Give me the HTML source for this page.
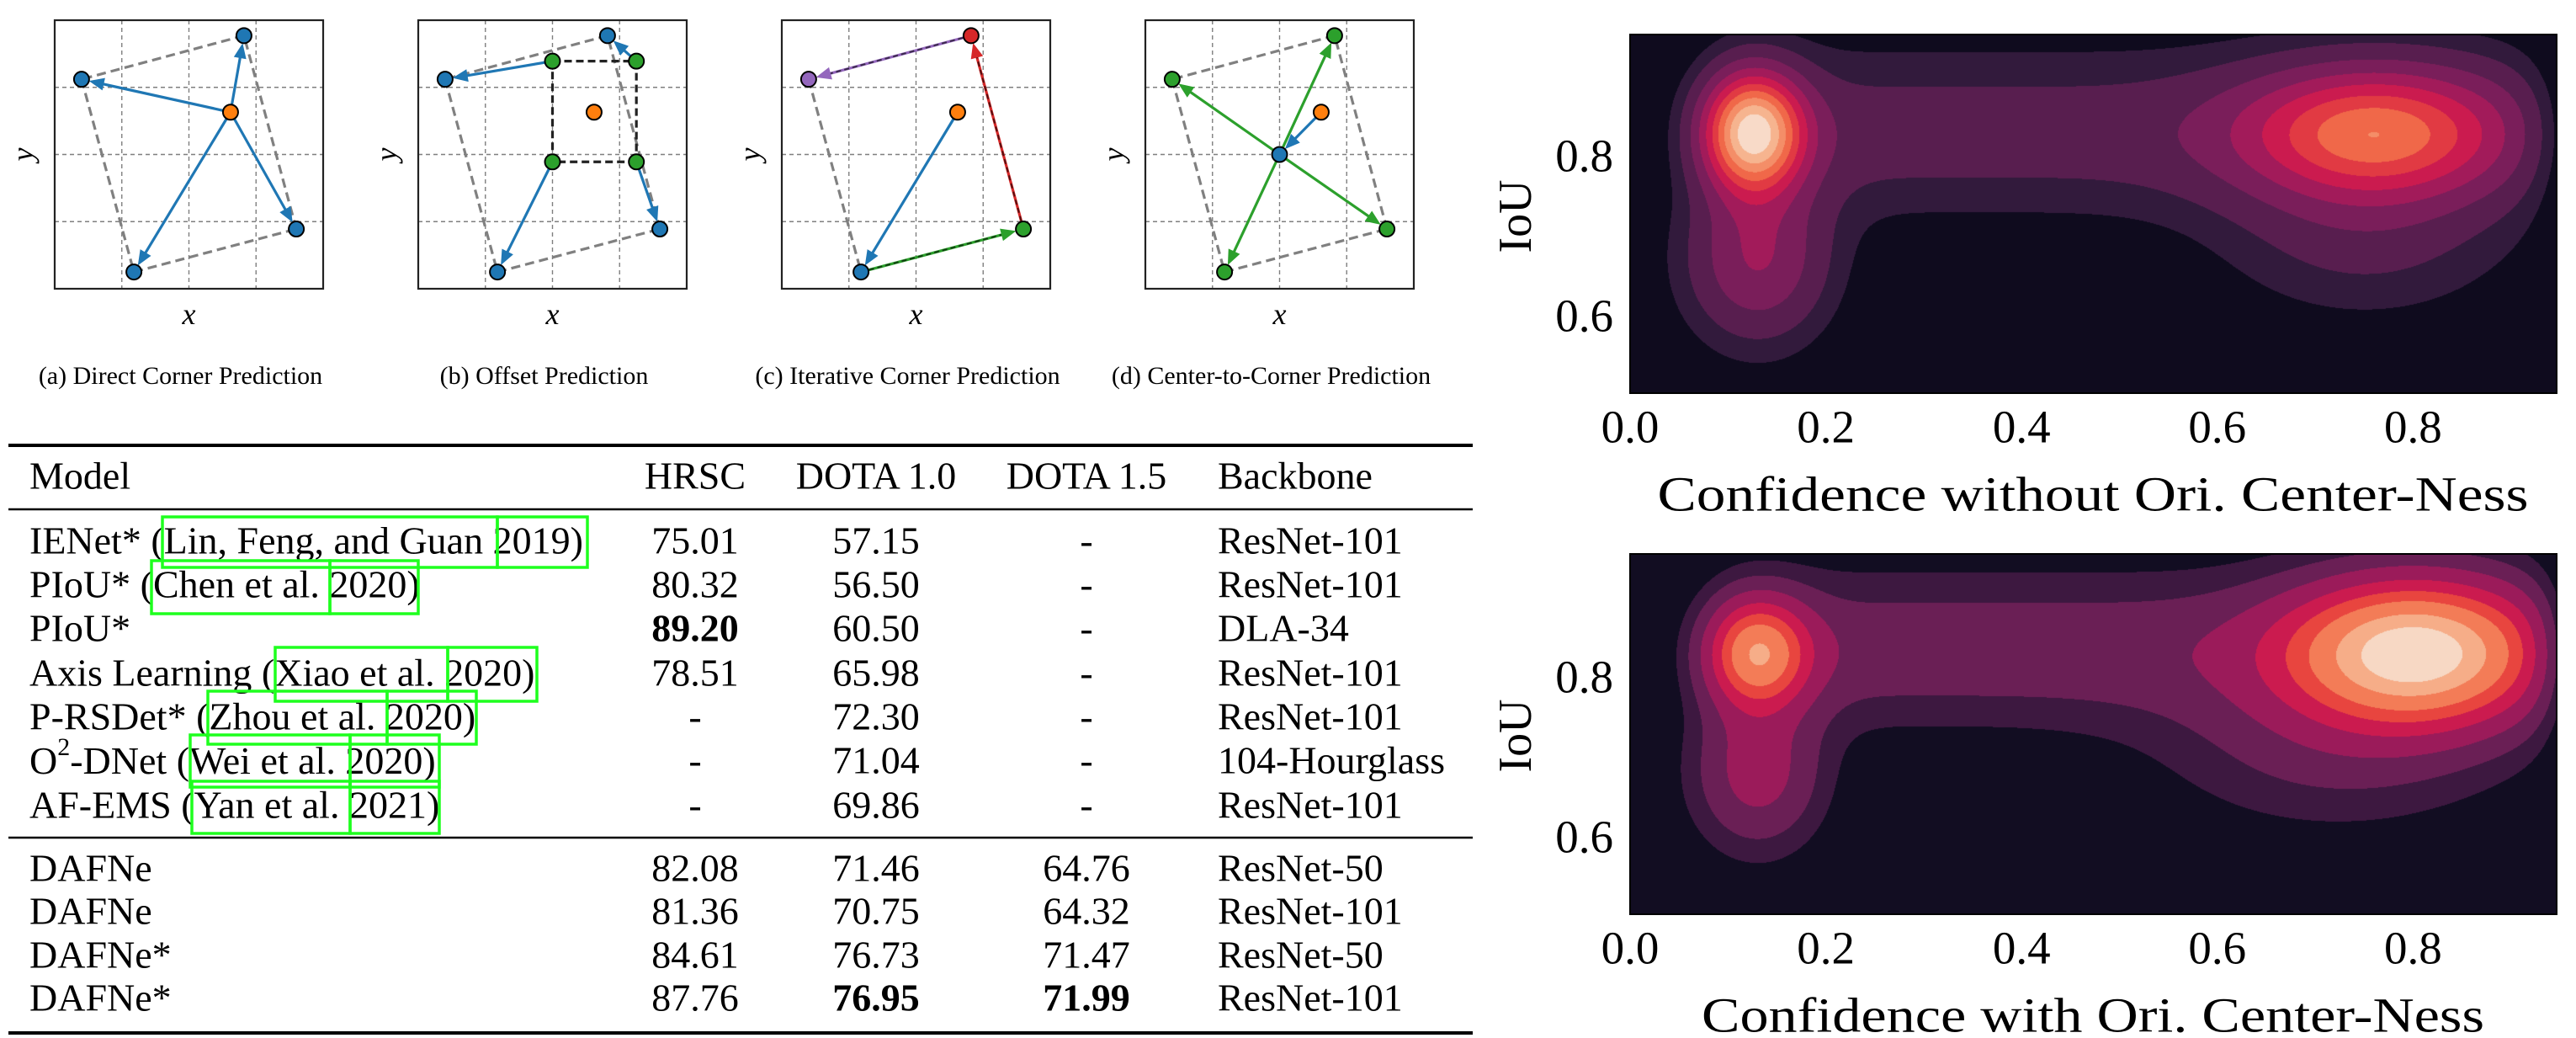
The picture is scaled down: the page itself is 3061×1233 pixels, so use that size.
<!DOCTYPE html>
<html><head><meta charset="utf-8">
<style>
html,body{margin:0;padding:0;background:#fff;}
#root{position:relative;width:3061px;height:1233px;overflow:hidden;}
svg{position:absolute;left:0;top:0;}
canvas{position:absolute;}
</style></head>
<body>
<div id="root">
<canvas id="kde1" style="left:1937px;top:41px" width="1101" height="426"></canvas>
<canvas id="kde2" style="left:1937px;top:658px" width="1101" height="428"></canvas>
<svg id="main" width="3061" height="1233" viewBox="0 0 3061 1233" xmlns="http://www.w3.org/2000/svg">
  <g id="diagrams"></g>
  <g id="table" font-family="Liberation Serif, serif" font-size="46" fill="#000"></g>
  <g id="kdeaxes" font-family="Liberation Serif, serif" fill="#000"></g>
</svg>
</div>
<script>
// ---------- Diagram data (grid units, 0..4) ----------
const blueCorners = [[2.82,0.23],[0.40,0.88],[1.18,3.75],[3.60,3.11]]; // top,left,bottom,right
const centerPt = [2.62,1.37];
const offsetCorners = [[2.0,0.61],[3.25,0.61],[3.25,2.11],[2.0,2.11]]; // TL,TR,BR,BL
const gridCenter = [2.0,2.0];
const panelCaptions = ["(a) Direct Corner Prediction","(b) Offset Prediction","(c) Iterative Corner Prediction","(d) Center-to-Corner Prediction"];
const panelLefts = [65,497,929,1361];

// ---------- Table data ----------
const tableHeader = ["Model","HRSC","DOTA 1.0","DOTA 1.5","Backbone"];
const tableModels = [
 ["IENet* (","Lin, Feng, and Guan","2019",")"],
 ["PIoU* (","Chen et al.","2020",")"],
 ["PIoU*"],
 ["Axis Learning (","Xiao et al.","2020",")"],
 ["P-RSDet* (","Zhou et al.","2020",")"],
 ["O2-DNet (","Wei et al.","2020",")"],
 ["AF-EMS (","Yan et al.","2021",")"],
 ["DAFNe"],["DAFNe"],["DAFNe*"],["DAFNe*"]];
const hrsc = ["75.01","80.32","89.20","78.51","-","-","-","82.08","81.36","84.61","87.76"];
const dota10 = ["57.15","56.50","60.50","65.98","72.30","71.04","69.86","71.46","70.75","76.73","76.95"];
const dota15 = ["-","-","-","-","-","-","-","64.76","64.32","71.47","71.99"];
const backbones = ["ResNet-101","ResNet-101","DLA-34","ResNet-101","ResNet-101","104-Hourglass","ResNet-101","ResNet-50","ResNet-101","ResNet-50","ResNet-101"];
const boldCells = {hrsc:[2], dota10:[10], dota15:[10]};

// ---------- KDE data: gaussian components [cx, cy, sx, sy, weight] ----------
const kde1Components = [[0.125,0.83,0.035,0.05,1.0],[0.13,0.67,0.05,0.07,0.35],[0.76,0.83,0.09,0.055,0.62],[0.75,0.70,0.10,0.07,0.15]];
// bridge band: [xStart, xEnd, cy, sy, weight]
const kde1Band = [0.09,0.92,0.83,0.07,0.18];
const kde1Levels = [0.055,0.11,0.2,0.3,0.4,0.5,0.6,0.7,0.8,0.9];
const kde1Colors = ["#0f0b1e","#321a3c","#581e4f","#7a1e5a","#a21b5a","#cb1b4f","#e13a43","#f06849","#f48e68","#f6b48f","#f8dac8"];
const kde2Components = [[0.13,0.83,0.035,0.045,0.72],[0.13,0.68,0.045,0.065,0.3],[0.80,0.83,0.085,0.06,1.0],[0.72,0.71,0.12,0.07,0.15]];
const kde2Band = [0.09,0.93,0.835,0.065,0.2];
const kde2Levels = [0.055,0.11,0.2,0.32,0.44,0.56,0.72,0.86];
const kde2Colors = ["#120d22","#3d1840","#6a1f55","#9b1b5a","#cb1b4f","#e8453f","#f37c57","#f6ad88","#f7d8c4"];
const xTicks = [0.0,0.2,0.4,0.6,0.8];
const xTickLabels = ["0.0","0.2","0.4","0.6","0.8"];
const yTicks = [0.6,0.8];
const yTickLabels = ["0.6","0.8"];

const NS="http://www.w3.org/2000/svg";
function el(tag,attrs,parent){const e=document.createElementNS(NS,tag);for(const k in attrs)e.setAttribute(k,attrs[k]);parent.appendChild(e);return e;}

// ---------- Diagrams ----------
const dg=document.getElementById('diagrams');
const FT=24, FS=319, U=FS/4, R=9;
const C={blue:"#1f77b4",orange:"#ff7f0e",green:"#2ca02c",red:"#d62728",purple:"#9467bd"};
function P(L,p){return [L+p[0]*U, FT+p[1]*U];}
function arrow(g,a,b,color,overlay){
  const dx=b[0]-a[0],dy=b[1]-a[1],len=Math.hypot(dx,dy),ux=dx/len,uy=dy/len;
  const tip=[b[0]-ux*R,b[1]-uy*R], hl=18,hw=7.5;
  const base=[tip[0]-ux*hl,tip[1]-uy*hl];
  const ln=el('line',{x1:a[0],y1:a[1],x2:base[0]+ux*2,y2:base[1]+uy*2,stroke:color,'stroke-width':3.2},g);
  
  
  const hd=el('polygon',{points:`${tip[0]},${tip[1]} ${base[0]-uy*hw},${base[1]+ux*hw} ${base[0]+uy*hw},${base[1]-ux*hw}`,fill:color},g);
  
  
  if(overlay){
    const o=el('line',{x1:a[0],y1:a[1],x2:base[0],y2:base[1],stroke:"#000",'stroke-opacity':0.6,'stroke-width':2,'stroke-dasharray':'6,4'},g);
    
    
  }
}
function dot(g,p,color){
  const c=el('circle',{cx:p[0],cy:p[1],r:R,fill:color,stroke:"#000",'stroke-width':2},g);
  
  
}
function quad(g,pts,segs,color,w,dash){
  segs.forEach(s=>{const a=pts[s[0]],b=pts[s[1]];
    const l=el('line',{x1:a[0],y1:a[1],x2:b[0],y2:b[1],stroke:color,'stroke-width':w,'stroke-dasharray':dash},g);
    
    });
}
panelLefts.forEach((L,i)=>{
  const g=el('g',{},dg);
  
  
  for(let k=1;k<4;k++){
    el('line',{x1:L+k*U,y1:FT,x2:L+k*U,y2:FT+FS,stroke:"#7f7f7f",'stroke-width':1.4,'stroke-dasharray':'5,4'},g);
    el('line',{x1:L,y1:FT+k*U,x2:L+FS,y2:FT+k*U,stroke:"#7f7f7f",'stroke-width':1.4,'stroke-dasharray':'5,4'},g);
  }
  const bc=blueCorners.map(p=>P(L,p)), cp=P(L,centerPt);
  const allEdges=[[0,1],[1,2],[2,3],[3,0]];
  const gray="#808080";
  if(i===0){
    quad(g,bc,allEdges,gray,3.2,'11,6');
    bc.forEach(p=>arrow(g,cp,p,C.blue));
    bc.forEach(p=>dot(g,p,C.blue)); dot(g,cp,C.orange);
  } else if(i===1){
    quad(g,bc,allEdges,gray,3.2,'11,6');
    const oc=offsetCorners.map(p=>P(L,p));
    quad(g,oc,allEdges,"#222",3.2,'9,5');
    arrow(g,oc[0],bc[1],C.blue); arrow(g,oc[1],bc[0],C.blue);
    arrow(g,oc[2],bc[3],C.blue); arrow(g,oc[3],bc[2],C.blue);
    bc.forEach(p=>dot(g,p,C.blue)); oc.forEach(p=>dot(g,p,C.green)); dot(g,cp,C.orange);
  } else if(i===2){
    quad(g,bc,[[1,2]],gray,3.2,'11,6');
    arrow(g,cp,bc[2],C.blue);
    arrow(g,bc[2],bc[3],C.green,true);
    arrow(g,bc[3],bc[0],C.red,true);
    arrow(g,bc[0],bc[1],C.purple,true);
    dot(g,bc[0],C.red); dot(g,bc[1],C.purple); dot(g,bc[2],C.blue); dot(g,bc[3],C.green); dot(g,cp,C.orange);
  } else {
    quad(g,bc,allEdges,gray,3.2,'11,6');
    const gc=P(L,gridCenter);
    arrow(g,cp,gc,C.blue);
    bc.forEach(p=>arrow(g,gc,p,C.green));
    bc.forEach(p=>dot(g,p,C.green)); dot(g,gc,C.blue); dot(g,cp,C.orange);
  }
  const fr=el('rect',{x:L,y:FT,width:FS,height:FS,fill:"none",stroke:"#222",'stroke-width':2.2},g);
  
  
  const xl=el('text',{x:L+FS/2,y:385,'font-family':'Liberation Serif, serif','font-style':'italic','font-size':36,'text-anchor':'middle'},g);
  xl.textContent='x';
  
  
  const yl=el('text',{x:0,y:0,'font-family':'Liberation Serif, serif','font-style':'italic','font-size':36,'text-anchor':'middle',transform:`translate(${L-26},${FT+FS/2}) rotate(-90)`},g);
  yl.textContent='y';
  
  
  const cap=el('text',{x:L+FS/2-10,y:456,'font-family':'Liberation Serif, serif','font-size':30,'text-anchor':'middle'},g);
  cap.textContent=panelCaptions[i];
  
  
});

// ---------- Table ----------
const tg=document.getElementById('table');
function rule(y,w){const l=el('line',{x1:10,y1:y,x2:1750,y2:y,stroke:"#000",'stroke-width':w},tg);
  
  }
rule(529,4);rule(605,2.5);rule(995,2.5);rule(1227,4);
const colX={model:35,hrsc:826,d10:1041,d15:1291,bb:1447};
function txt(x,y,s,anchor,bold,name){
  const t=el('text',{x:x,y:y,'text-anchor':anchor,'dominant-baseline':'central'},tg);
  if(bold)t.setAttribute('font-weight','bold');
  t.textContent=s;
  
  
  return t;
}
txt(colX.model,565,tableHeader[0],'start',false,'header-model');
txt(colX.hrsc,565,tableHeader[1],'middle',false,'header-hrsc');
txt(colX.d10,565,tableHeader[2],'middle',false,'header-dota10');
txt(colX.d15,565,tableHeader[3],'middle',false,'header-dota15');
txt(colX.bb,565,tableHeader[4],'start',false,'header-backbone');
const rowY=[642,694,746,799,851,903,956,1031,1082,1134,1185];
const boxes=[
 [[193,591],[591,698],614,674],
 [[180,392],[392,497],666,729],
 null,
 [[327,532],[532,638],769,833],
 [[247,460],[460,566],821,884],
 [[226,416],[416,522],873,935],
 [[228,416],[416,522],928,990]];
tableModels.forEach((m,i)=>{
  const y=rowY[i];
  const t=el('text',{x:colX.model,y:y,'dominant-baseline':'central'},tg);
  
  
  if(m[0].startsWith('O2')){
    const a=el('tspan',{},t);a.textContent='O';
    const s=el('tspan',{'font-size':30,dy:-16},t);s.textContent='2';
    const b=el('tspan',{dy:16},t);
    b.textContent=m[0].slice(2)+m[1]+' '+m[2]+m[3];
  } else if(m.length>1){
    t.textContent=m[0]+m[1]+' '+m[2]+m[3];
  } else t.textContent=m[0];
  txt(colX.hrsc,y,hrsc[i],'middle',boldCells.hrsc.includes(i),'hrsc-value');
  txt(colX.d10,y,dota10[i],'middle',boldCells.dota10.includes(i),'dota10-value');
  txt(colX.d15,y,dota15[i],'middle',boldCells.dota15.includes(i),'dota15-value');
  txt(colX.bb,y,backbones[i],'start',false,'backbone-value');
  const b=boxes[i];
  if(b){
    [b[0],b[1]].forEach(r=>{
      const rc=el('rect',{x:r[0],y:b[2],width:r[1]-r[0],height:b[3]-b[2],fill:'none',stroke:'#1eff1e','stroke-width':3.5},tg);
      
      
    });
  }
});

// ---------- KDE plots ----------
const X0=1937, XS=1163; // px per unit confidence
const YSC=950; // px per unit IoU
function xpx(v){return X0+v*XS;}
function sig(t){return 1/(1+Math.exp(-t));}
function dens(comps,band,x,y){
  let s=0;
  for(const c of comps){const a=(x-c[0])/c[2],b=(y-c[1])/c[3];s+=c[4]*Math.exp(-0.5*(a*a+b*b));}
  const bb=(y-band[2])/band[3];
  s+=band[4]*sig((x-band[0])/0.02)*sig((band[1]-x)/0.02)*Math.exp(-0.5*bb*bb);
  return s;
}
function hex(c){return [parseInt(c.slice(1,3),16),parseInt(c.slice(3,5),16),parseInt(c.slice(5,7),16)];}
function drawKde(id,comps,band,levels,colors,top,y08){
  const cv=document.getElementById(id),ctx=cv.getContext('2d');
  const W=cv.width,H=cv.height;
  ctx.fillStyle=colors[0];ctx.fillRect(0,0,W,H);
  const img=ctx.getImageData(0,0,W,H);
  const vals=new Float64Array(W*H);let mx=0;
  for(let j=0;j<H;j++){const y=0.8-((top+j)-y08)/YSC;
    for(let i=0;i<W;i++){const x=i/XS;
      const v=dens(comps,band,x,y)*sig((0.945-x)/0.012);vals[j*W+i]=v;if(v>mx)mx=v;}}
  const cols=colors.map(hex);
  for(let k=0;k<W*H;k++){const f=vals[k]/mx;let l=0;while(l<levels.length&&f>=levels[l])l++;
    if(l===0)continue;
    const c=cols[l];img.data[k*4]=c[0];img.data[k*4+1]=c[1];img.data[k*4+2]=c[2];img.data[k*4+3]=255;}
  ctx.putImageData(img,0,0);
}
drawKde('kde1',kde1Components,kde1Band,kde1Levels,kde1Colors,41,185);
drawKde('kde2',kde2Components,kde2Band,kde2Levels,kde2Colors,658,804);

const ka=document.getElementById('kdeaxes');
[[41,467,185,"Confidence without Ori. Center-Ness",1035],[658,1086,804,"Confidence with Ori. Center-Ness",930]].forEach((p,n)=>{
  const fr=el('rect',{x:1937,y:p[0],width:1101,height:p[1]-p[0],fill:'none',stroke:'#000','stroke-width':2},ka);
  
  
  xTicks.forEach((v,i)=>{
    const t=el('text',{x:xpx(v),y:p[1]+40,'font-size':55,'text-anchor':'middle','dominant-baseline':'central'},ka);
    t.textContent=xTickLabels[i];
    
    
  });
  yTicks.forEach((v,i)=>{
    const t=el('text',{x:1917,y:p[2]-(v-0.8)*YSC,'font-size':55,'text-anchor':'end','dominant-baseline':'central'},ka);
    t.textContent=yTickLabels[i];
    
    
  });
  const yl=el('text',{x:0,y:0,'font-size':56,'text-anchor':'middle','dominant-baseline':'central',transform:`translate(1801,${p[0]+216}) rotate(-90)`},ka);
  yl.textContent='IoU';
  
  
  const xl=el('text',{x:2487,y:p[1]+120,'font-size':58,'text-anchor':'middle','dominant-baseline':'central',textLength:p[4],lengthAdjust:'spacingAndGlyphs'},ka);
  xl.textContent=p[3];
  
  
});
</script>
</body></html>
